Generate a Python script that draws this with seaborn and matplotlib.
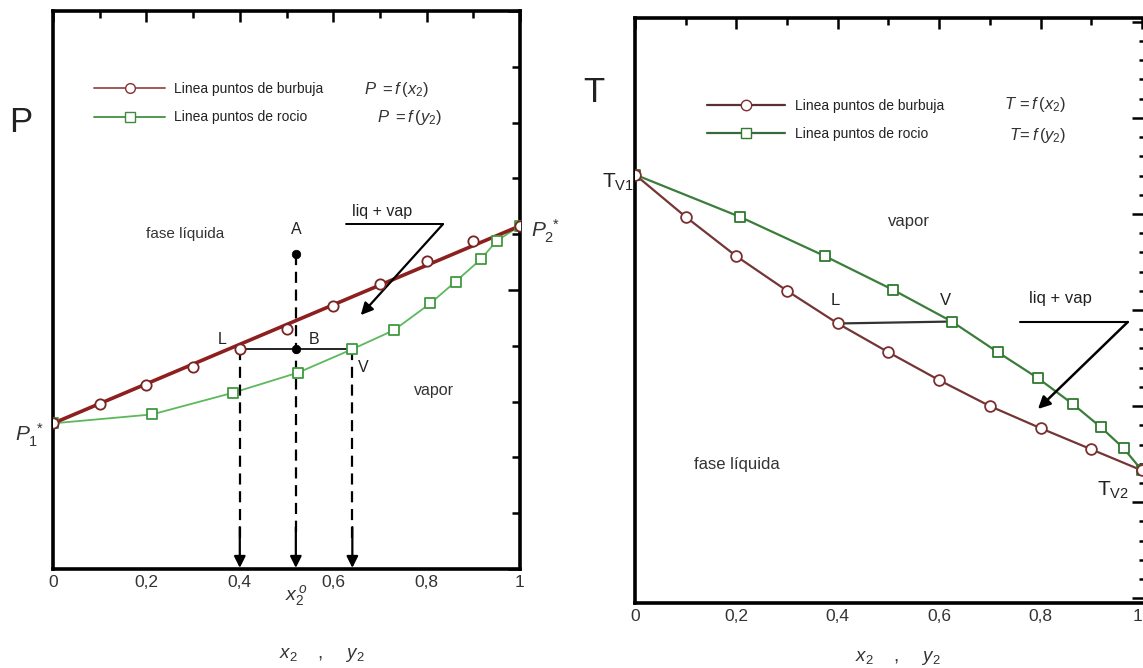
import numpy as np
import pandas as pd
import matplotlib
matplotlib.use("Agg")
import matplotlib.pyplot as plt
import matplotlib.transforms as mtransforms
from matplotlib.lines import Line2D
from matplotlib.ticker import MultipleLocator
import seaborn as sns

# ---------------- data ----------------
# Left panel: P - x,y diagram (arbitrary pressure units, axis 0..10)
x_bub = [0.0, 0.1, 0.2, 0.3, 0.4, 0.5, 0.6, 0.7, 0.8, 0.9, 1.0]
P_bub = [2.61, 2.95, 3.29, 3.62, 3.95, 4.30, 4.72, 5.10, 5.52, 5.88, 6.15]
y_dew = [0.0, 0.212, 0.386, 0.525, 0.641, 0.73, 0.808, 0.862, 0.916, 0.95, 1.0]
P_dew = [2.61, 2.77, 3.16, 3.52, 3.94, 4.28, 4.76, 5.15, 5.55, 5.88, 6.15]
x2_0 = 0.52          # feed composition x2°
P_A = 5.64           # point A
x_L, y_V, P_LV = 0.40, 0.641, 3.94   # tie line L-B-V

# Right panel: T - x,y diagram (arbitrary temperature units)
xT_bub = [0.0, 0.1, 0.2, 0.3, 0.4, 0.5, 0.6, 0.7, 0.8, 0.9, 1.0]
T_bub = [4.41, 3.97, 3.56, 3.20, 2.86, 2.56, 2.27, 2.00, 1.77, 1.55, 1.33]
yT_dew = [0.0, 0.207, 0.375, 0.509, 0.625, 0.716, 0.795, 0.864, 0.919, 0.964, 1.0]
T_dew = [4.41, 3.97, 3.56, 3.21, 2.88, 2.56, 2.29, 2.02, 1.78, 1.56, 1.33]

xtick_vals = [0, 0.2, 0.4, 0.6, 0.8, 1.0]
xtick_labels = ["0", "0,2", "0,4", "0,6", "0,8", "1"]
leg_labels = ["Linea puntos de burbuja", "Linea puntos de rocio"]

# ---------------- style ----------------
sns.set_theme(style="white")
plt.rcParams["font.family"] = ["Liberation Sans", "DejaVu Sans"]
plt.rcParams["mathtext.fontset"] = "custom"
plt.rcParams["mathtext.rm"] = "Liberation Sans"
plt.rcParams["mathtext.it"] = "Liberation Sans:italic"
plt.rcParams["mathtext.bf"] = "Liberation Sans:bold"

W, H = 1143, 668
fig = plt.figure(figsize=(W / 100, H / 100), dpi=100)
fig.patch.set_facecolor("white")


def px_axes(left, top, right, bottom):
    return fig.add_axes([left / W, 1 - bottom / H, (right - left) / W, (bottom - top) / H])


def style_axes(ax, ymaj, ymin, ymaj_len, ymin_len):
    for s in ax.spines.values():
        s.set_linewidth(2.6)
        s.set_color("black")
        s.set_visible(True)
    ax.set_facecolor("white")
    ax.xaxis.set_major_locator(plt.FixedLocator(xtick_vals))
    ax.xaxis.set_major_formatter(plt.FixedFormatter(xtick_labels))
    ax.xaxis.set_minor_locator(MultipleLocator(0.1))
    ax.yaxis.set_major_locator(MultipleLocator(ymaj))
    ax.yaxis.set_minor_locator(MultipleLocator(ymin))
    ax.tick_params(which="both", direction="in", top=True, right=True,
                   labelleft=False, labeltop=False, labelright=False,
                   color="black", width=1.8)
    ax.tick_params(axis="x", which="major", length=8, labelsize=12.5,
                   labelcolor="#333333", pad=4)
    ax.tick_params(axis="x", which="minor", length=5)
    ax.tick_params(axis="y", which="major", length=ymaj_len)
    ax.tick_params(axis="y", which="minor", length=ymin_len)
    ax.set_xlabel("")
    ax.set_ylabel("")
    ax.grid(False)


# ================= LEFT PANEL =================
ax1 = px_axes(53, 11, 520, 569)
ax1.set_xlim(0, 1)
ax1.set_ylim(0, 10)

bub_red = "#8e1f1f"
dew_green = "#5cb85c"

# straight bubble line between pure-component pressures
sns.lineplot(x=[x_bub[0], x_bub[-1]], y=[P_bub[0], P_bub[-1]], ax=ax1,
             color=bub_red, lw=2.6, sort=False, zorder=3, legend=False)
sns.lineplot(x=y_dew, y=P_dew, ax=ax1, color=dew_green, lw=1.3,
             sort=False, zorder=2, legend=False)
sns.scatterplot(x=y_dew, y=P_dew, ax=ax1, marker="s", s=48, facecolor="white",
                edgecolor="#3f9a3f", linewidth=1.3, zorder=4, legend=False)
sns.scatterplot(x=x_bub, y=P_bub, ax=ax1, marker="o", s=55, facecolor="white",
                edgecolor="#7a2424", linewidth=1.3, zorder=5, legend=False)

# tie line and points A, B
ax1.plot([x_L, y_V], [P_LV, P_LV], color="black", lw=1.2, zorder=3)
sns.scatterplot(x=[x2_0, x2_0], y=[P_A, P_LV], ax=ax1, color="black", s=38,
                zorder=6, legend=False, edgecolor="black")

# dashed drop lines with arrow heads
for xv, ytop in [(x_L, P_LV), (x2_0, P_A), (y_V, P_LV)]:
    ax1.plot([xv, xv], [ytop, 0.55], color="black", lw=1.6,
             dashes=(5, 3), zorder=2)
    ax1.annotate("", xy=(xv, 0.02), xytext=(xv, 0.75),
                 arrowprops=dict(arrowstyle="-|>", color="black", lw=1.6,
                                 mutation_scale=17, shrinkA=0, shrinkB=0))

style_axes(ax1, 5, 1, 9, 6)

# annotations
ax1.text(-0.069, 8.0, "P", fontsize=25, ha="center", va="center", color="#222222")
ax1.text(-0.05, 2.4, r"$P_1^{\ *}$", fontsize=15, ha="center", va="center", color="#333333")
ax1.text(1.055, 6.05, r"$P_2^{\ *}$", fontsize=15, ha="center", va="center",
         color="#333333", clip_on=False)
ax1.text(0.283, 6.0, "fase líquida", fontsize=11, ha="center", va="center", color="#333333")
ax1.text(x2_0, 6.08, "A", fontsize=11.5, ha="center", va="center", color="#222222")
ax1.text(0.548, 4.12, "B", fontsize=11.5, ha="left", va="center", color="#222222")
ax1.text(0.363, 4.12, "L", fontsize=11.5, ha="center", va="center", color="#222222")
ax1.text(0.665, 3.62, "V", fontsize=11.5, ha="center", va="center", color="#222222")
ax1.text(0.815, 3.19, "vapor", fontsize=11.5, ha="center", va="center", color="#333333")
ax1.text(0.705, 6.4, "liq + vap", fontsize=11.5, ha="center", va="center", color="#222222")
ax1.plot([0.628, 0.835], [6.18, 6.18], color="black", lw=1.4, zorder=3)
ax1.annotate("", xy=(0.659, 4.55), xytext=(0.835, 6.18),
             arrowprops=dict(arrowstyle="-|>", color="black", lw=1.6,
                             mutation_scale=18, shrinkA=0, shrinkB=0))

# x2° under the axis
trans1 = mtransforms.blended_transform_factory(ax1.transData, ax1.transAxes)
ax1.text(x2_0, -0.047, r"$x_2^{\,o}$", fontsize=14, ha="center", va="center",
         color="#333333", transform=trans1)

# legend + formulas
h1 = [Line2D([], [], color="#a05a5a", lw=1.4, marker="o", markersize=7,
             markerfacecolor="white", markeredgecolor="#8a3030"),
      Line2D([], [], color="#4f9a4f", lw=1.4, marker="s", markersize=7,
             markerfacecolor="white", markeredgecolor="#3f8a3f")]
ax1.legend(h1, leg_labels, loc="center left", bbox_to_anchor=(0.088, 0.835),
           frameon=False, fontsize=10, handlelength=5.1, handletextpad=0.65,
           labelspacing=1.05, borderpad=0, borderaxespad=0, numpoints=1,
           labelcolor="#222222")
ax1.text(0.667, 8.6, r"$P\ =f\,(x_2)$", fontsize=12, ha="left", va="center", color="#333333")
ax1.text(0.693, 8.1, r"$P\ =f\,(y_2)$", fontsize=12, ha="left", va="center", color="#333333")

# ================= RIGHT PANEL =================
ax2 = px_axes(635, 18, 1147, 603)
ax2.set_xlim(0, 1.01)
ax2.set_ylim(-0.05, 6.04)

bub_brown = "#743535"
dew_dgreen = "#3b7d3b"
sns.lineplot(x=xT_bub, y=T_bub, ax=ax2, color=bub_brown, lw=1.6, sort=False,
             zorder=3, legend=False)
sns.lineplot(x=yT_dew, y=T_dew, ax=ax2, color=dew_dgreen, lw=1.6, sort=False,
             zorder=2, legend=False)
sns.scatterplot(x=yT_dew, y=T_dew, ax=ax2, marker="s", s=55, facecolor="white",
                edgecolor="#2f7a2f", linewidth=1.3, zorder=4, legend=False)
sns.scatterplot(x=xT_bub, y=T_bub, ax=ax2, marker="o", s=60, facecolor="white",
                edgecolor="#7a3030", linewidth=1.3, zorder=5, legend=False)

# tie line L-V
ax2.plot([xT_bub[4], yT_dew[4]], [T_bub[4], T_dew[4]], color="#333333", lw=1.6, zorder=3)

style_axes(ax2, 1, 0.2, 11, 6)
# the "1" label sits at the very right edge of the image
last_lbl = ax2.get_xticklabels()[-1]
last_lbl.set_horizontalalignment("right")

ax2.text(-0.002, 4.33, r"$\mathrm{T_{V1}}$", fontsize=15, ha="right", va="center",
         color="#222222")
ax2.text(0.943, 1.12, r"$\mathrm{T_{V2}}$", fontsize=15, ha="center", va="center",
         color="#222222")
ax2.text(0.54, 3.92, "vapor", fontsize=12, ha="center", va="center", color="#333333")
ax2.text(0.396, 3.1, "L", fontsize=12, ha="center", va="center", color="#222222")
ax2.text(0.613, 3.1, "V", fontsize=12, ha="center", va="center", color="#222222")
ax2.text(0.84, 3.12, "liq + vap", fontsize=12, ha="center", va="center", color="#222222")
ax2.plot([0.759, 0.972], [2.875, 2.875], color="black", lw=1.5, zorder=3)
ax2.annotate("", xy=(0.795, 1.97), xytext=(0.972, 2.875),
             arrowprops=dict(arrowstyle="-|>", color="black", lw=1.8,
                             mutation_scale=18, shrinkA=0, shrinkB=0))
ax2.text(0.2, 1.39, "fase líquida", fontsize=12, ha="center", va="center", color="#333333")

h2 = [Line2D([], [], color="#5a3030", lw=1.6, marker="o", markersize=7.5,
             markerfacecolor="white", markeredgecolor="#7a3030"),
      Line2D([], [], color="#3a6a3a", lw=1.6, marker="s", markersize=7.5,
             markerfacecolor="white", markeredgecolor="#2f7a2f")]
ax2.legend(h2, leg_labels, loc="center left", bbox_to_anchor=(0.141, 0.826),
           frameon=False, fontsize=10, handlelength=5.6, handletextpad=0.7,
           labelspacing=1.0, borderpad=0, borderaxespad=0, numpoints=1,
           labelcolor="#222222")
ax2.text(0.728, 5.14, r"$T\,=f\,(x_2)$", fontsize=12, ha="left", va="center", color="#333333")
ax2.text(0.738, 4.82, r"$T\!=f\,(y_2)$", fontsize=12, ha="left", va="center", color="#333333")

# big axis letters and bottom labels
fig.text(594 / W, 1 - 93 / H, "T", fontsize=25, ha="center", va="center", color="#222222")
fig.text(322 / W, 1 - 655 / H, r"$x_2\quad\ ,\quad\ y_2$", fontsize=13.5,
         ha="center", va="center", color="#333333")
fig.text(898 / W, 1 - 658 / H, r"$x_2\quad\ ,\quad\ y_2$", fontsize=13.5,
         ha="center", va="center", color="#333333")

fig.savefig("out.png", dpi=100, facecolor="white")
